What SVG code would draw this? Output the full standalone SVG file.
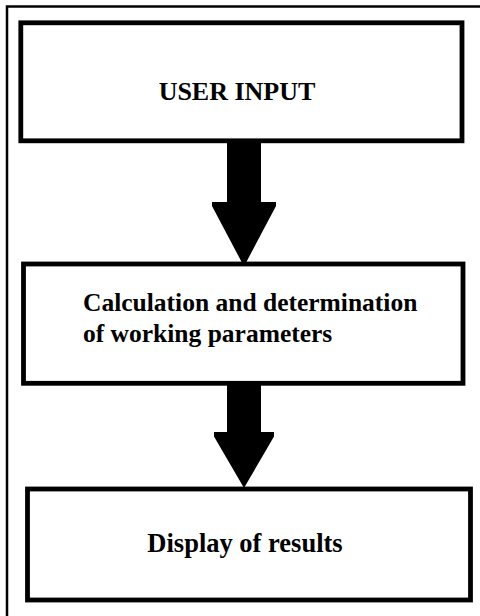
<svg xmlns="http://www.w3.org/2000/svg" width="480" height="616" viewBox="0 0 480 616">
<style>
.box{fill:#fff;stroke:#000;stroke-width:4.8}
.frame{fill:none;stroke:#000;stroke-width:2.5}
.lbl{font-family:"Liberation Serif","Times New Roman",serif;font-weight:bold;fill:#000}
.arrow{fill:#000;stroke:none}
</style>
<rect width="480" height="616" fill="#fff"/>
<path class="frame" d="M7,616 V6.5 H480"/>
<g id="connectors">
<polygon class="arrow" points="227,141 261,141 261,202 276,202 276,206 244,266.5 212,206 212,202 227,202"/>
<polygon class="arrow" points="227,383 261,383 261,432 274,432 274,436.5 244,488 214,436.5 214,432 227,432"/>
</g>
<g id="node-user-input">
<rect class="box" x="20.8" y="22.8" width="441.2" height="118"/>
<text class="lbl" x="237" y="99.5" font-size="26" text-anchor="middle">USER INPUT</text>
</g>
<g id="node-calculation">
<rect class="box" x="23.5" y="264" width="439.5" height="119.3"/>
<text class="lbl" x="83" y="311" font-size="25.5">Calculation and determination</text>
<text class="lbl" x="83" y="342" font-size="25.5">of working parameters</text>
</g>
<g id="node-display">
<rect class="box" x="27.5" y="489" width="443" height="111"/>
<text class="lbl" x="245" y="552" font-size="26.5" text-anchor="middle">Display of results</text>
</g>
</svg>
